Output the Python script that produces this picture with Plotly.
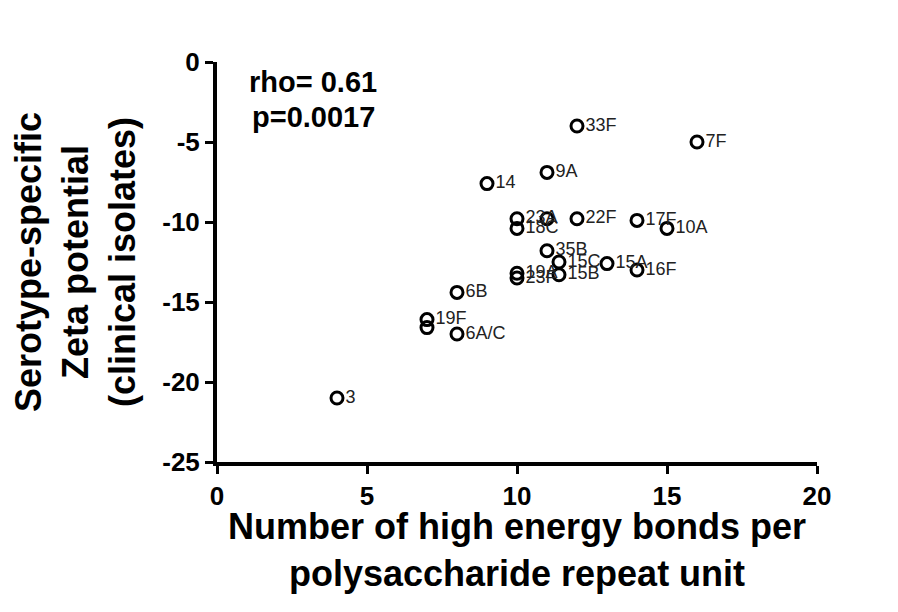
import plotly.graph_objects as go

# Data
serotypes = ["3", "19F", "", "6A/C", "6B", "14", "9A", "33F", "7F",
             "23A", "18C", "", "22F", "17F", "10A",
             "35B", "15C", "15A", "16F", "15B", "19A", "23F"]
bonds = [4, 7, 7, 8, 8, 9, 11, 12, 16,
         10, 10, 11, 12, 14, 15,
         11, 11.4, 13, 14, 11.4, 10, 10]
zeta = [-21.0, -16.1, -16.6, -17.0, -14.4, -7.6, -6.9, -4.0, -5.0,
        -9.8, -10.4, -9.8, -9.8, -9.9, -10.4,
        -11.8, -12.5, -12.6, -13.0, -13.3, -13.2, -13.5]

x_ticks = [0, 5, 10, 15, 20]
x_labels = ["0", "5", "10", "15", "20"]
y_ticks = [0, -5, -10, -15, -20, -25]
y_labels = ["0", "-5", "-10", "-15", "-20", "-25"]

FONT = "Liberation Sans, Arial, sans-serif"

fig = go.Figure()
fig.add_trace(go.Scatter(
    x=bonds, y=zeta, mode="markers+text",
    text=serotypes, textposition="middle right",
    textfont=dict(family=FONT, size=18, color="#222222"),
    marker=dict(symbol="circle-open", size=12, color="black",
                line=dict(width=3, color="black")),
    cliponaxis=False, showlegend=False,
))

fig.add_annotation(x=3.2, y=-1.25, xref="x", yref="y", text="rho= 0.61",
                   showarrow=False,
                   font=dict(family=FONT, size=29, color="black", weight="bold"))
fig.add_annotation(x=3.2, y=-3.45, xref="x", yref="y", text="p=0.0017",
                   showarrow=False,
                   font=dict(family=FONT, size=29, color="black", weight="bold"))

# x-axis title as an annotation for precise placement
fig.add_annotation(x=0.5, y=-0.105, xref="paper", yref="paper",
                   xanchor="center", yanchor="top", showarrow=False,
                   text="Number of high energy bonds per<br>polysaccharide repeat unit",
                   font=dict(family=FONT, size=36, color="black", weight="bold"))

axis_common = dict(
    showline=True, linecolor="black", linewidth=4,
    ticks="outside", ticklen=8, tickwidth=3, tickcolor="black",
    showgrid=False, zeroline=False,
    tickfont=dict(family=FONT, size=26, color="black", weight="bold"),
)

fig.update_xaxes(range=[0, 20], tickvals=x_ticks, ticktext=x_labels, **axis_common)
fig.update_yaxes(range=[-25, 0], tickvals=y_ticks, ticktext=y_labels, **axis_common,
                 title=dict(text="Serotype-specific<br>Zeta potential<br>(clinical isolates)",
                            font=dict(family=FONT, size=36, color="black", weight="bold"),
                            standoff=18))

fig.update_layout(
    width=882, height=596,
    margin=dict(l=209, r=73, t=54, b=142, autoexpand=False),
    plot_bgcolor="white", paper_bgcolor="white",
)

fig.write_html("out.html")
